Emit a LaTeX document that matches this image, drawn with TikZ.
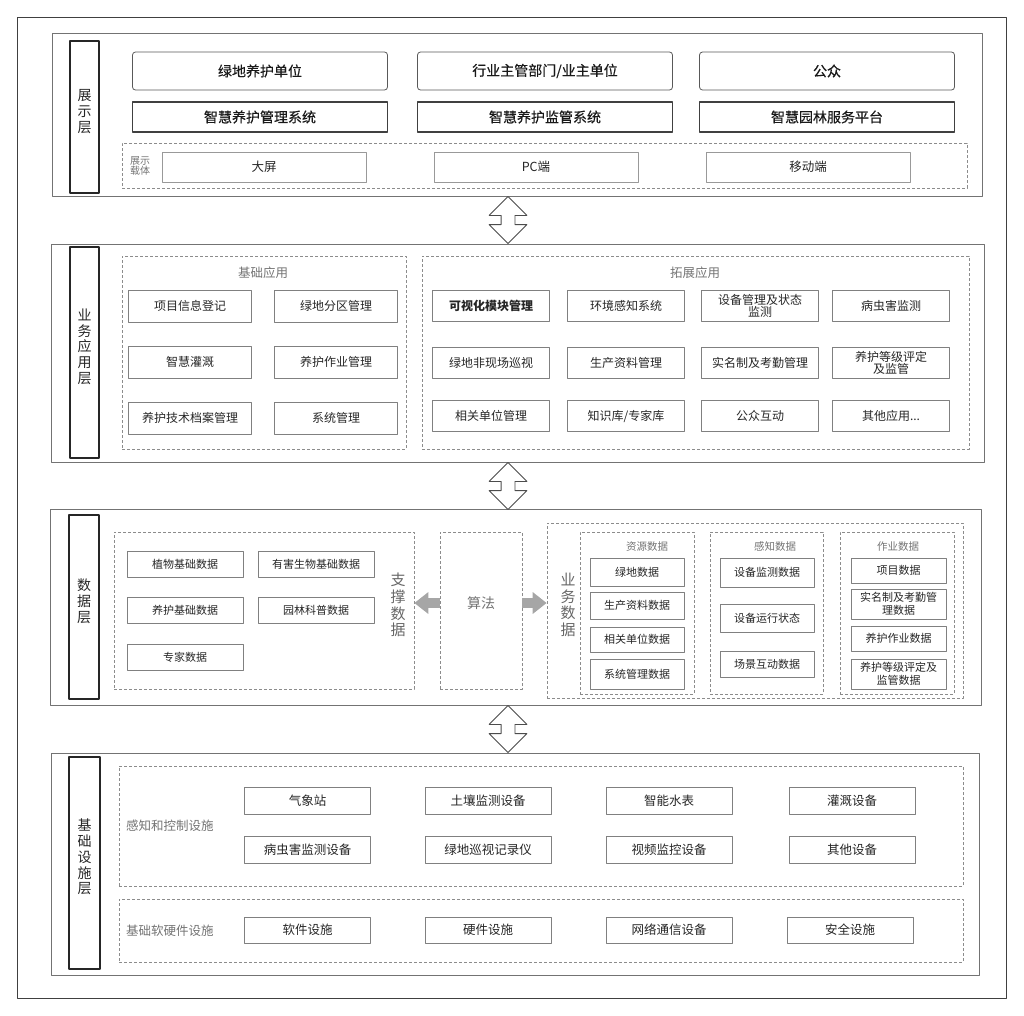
\documentclass[tikz,border=0pt]{standalone}
\usepackage{fontspec}
\newfontfamily\cjk{Noto Sans CJK SC}
\newfontfamily\cjkmid[FakeBold=0.4]{Noto Sans CJK SC}
\usetikzlibrary{fit,shapes.arrows,arrows.meta}
\begin{document}
\begin{tikzpicture}[x=1pt, y=-1pt, font=\cjk, line join=round,
	frame/.style={draw=black!75, line width=1pt, inner sep=0pt},
	layer/.style={draw=black!55, line width=0.9pt, inner sep=0pt},
	tag/.style={draw=black!85, line width=1.5pt, inner sep=0pt, align=center, text=black!85, font=\cjk\fontsize{14}{15.7}\selectfont},
	grp/.style={draw=black!45, dash pattern=on 3pt off 2pt, line width=0.7pt, inner sep=0pt},
	item/.style={draw=black!50, line width=0.8pt, inner sep=1pt, align=center, text=black!85, font=\cjk\fontsize{12}{12.5}\selectfont},
	role/.style={item, draw=black!65, rounded corners=3pt, text=black!90, font=\cjkmid\fontsize{14}{16}\selectfont, minimum width=255, minimum height=38},
	sys/.style={item, draw=black!75, line width=1.3pt, text=black!90, font=\cjkmid\fontsize{14}{16}\selectfont, minimum width=255, minimum height=30},
	screen/.style={item, draw=black!40, font=\cjk\fontsize{12.5}{14}\selectfont, minimum width=204, minimum height=30},
	datum/.style={item, font=\cjk\fontsize{11}{13}\selectfont},
	device/.style={item, font=\cjk\fontsize{12.5}{14}\selectfont, minimum width=126, minimum height=27},
	note/.style={text=black!55, inner sep=0pt, align=center, font=\cjk\fontsize{12.5}{14}\selectfont},
	small/.style={note, font=\cjk\fontsize{10.5}{11}\selectfont},
	upright/.style={note, text=black!60, font=\cjk\fontsize{15}{16.7}\selectfont},
	link/.style={double arrow, draw=black!70, fill=white, line width=0.8pt, rotate=90, inner xsep=0pt, inner ysep=6.5pt, minimum height=47, double arrow head extend=12pt, double arrow tip angle=90},
	push/.style={draw=black!35, line width=10pt, -{Triangle[width=21pt,length=14pt]}}
	]
	\useasboundingbox (0,0) rectangle (1024,1015);
	\node[frame, fit={(17,17) (1006,998)}] (all) {};
	
	\node[layer, fit={(52,33) (982,196)}] (lay1) {};
	\node[tag, fit={(70,41) (99,193)}] (tag1) {展\\示\\层};
	\foreach \x/\a/\b [count=\i] in {260/绿地养护单位/智慧养护管理系统, 545/{行业主管部门/业主单位}/智慧养护监管系统, 827/公众/智慧园林服务平台}
	{
		\node[role] (user\i) at (\x,71) {\a};
		\node[sys] (sys\i) at (\x,117) {\b};
	}
	\node[grp, fit={(122,143) (967,188)}] (carrier) {};
	\node[small, font=\cjk\fontsize{10}{10.5}\selectfont] (carriertxt) at (140,166) {展示\\载体};
	\foreach \x/\t [count=\i] in {264/大屏, 536/PC端, 808/移动端}
		\node[screen] (screen\i) at (\x,167) {\t};
	
	\node[layer, fit={(51,244) (984,462)}] (lay2) {};
	\node[tag, fit={(70,247) (99,458)}] (tag2) {业\\务\\应\\用\\层};
	\node[grp, fit={(122,256) (406,449)}] (basic) {};
	\node[note] (basictxt) at (263,273) {基础应用};
	\foreach \y/\a/\b [count=\r] in {306/项目信息登记/绿地分区管理, 362/智慧灌溉/养护作业管理, 418/养护技术档案管理/系统管理}
	{
		\node[item, minimum width=123, minimum height=32] (basic\r a) at (190,\y) {\a};
		\node[item, minimum width=123, minimum height=32] (basic\r b) at (336,\y) {\b};
	}
	\node[grp, fit={(422,256) (969,449)}] (extra) {};
	\node[note] (extratxt) at (695,273) {拓展应用};
	\foreach \y/\a/\b/\c/\d [count=\r] in {306/{\bfseries 可视化模块管理}/环境感知系统/{设备管理及状态\\监测}/病虫害监测, 363/绿地非现场巡视/生产资料管理/实名制及考勤管理/{养护等级评定\\及监管}, 416/相关单位管理/{知识库/专家库}/公众互动/{其他应用...}}
	{
		\node[item, minimum width=117, minimum height=31] (extra\r a) at (491,\y) {\a};
		\node[item, minimum width=117, minimum height=31] (extra\r b) at (626,\y) {\b};
		\node[item, minimum width=117, minimum height=31] (extra\r c) at (760,\y) {\c};
		\node[item, minimum width=117, minimum height=31] (extra\r d) at (891,\y) {\d};
	}
	
	\node[layer, fit={(50,509) (981,705)}] (lay3) {};
	\node[tag, fit={(69,515) (99,699)}] (tag3) {数\\据\\层};
	\node[grp, fit={(114,532) (414,689)}] (sup) {};
	\foreach \x/\y/\t [count=\i] in {185/564/植物基础数据, 316/564/有害生物基础数据, 185/610/养护基础数据, 316/610/园林科普数据, 185/657/专家数据}
		\node[datum, minimum width=116, minimum height=26] (sup\i) at (\x,\y) {\t};
	\node[upright] (suptxt) at (398,605) {支\\撑\\数\\据};
	\node[grp, fit={(440,532) (522,689)}] (alg) {};
	\node[note, font=\cjk\fontsize{14}{16}\selectfont] (algtxt) at (481,603) {算法};
	\node[grp, fit={(547,523) (963,698)}] (biz) {};
	\node[upright] (biztxt) at (568,605) {业\\务\\数\\据};
	\node[grp, fit={(580,532) (694,694)}] (res) {};
	\node[small] (restxt) at (647,547) {资源数据};
	\foreach \y/\h/\t [count=\i] in {572/28/绿地数据, 605.5/27/生产资料数据, 639.5/25/相关单位数据, 674/30/系统管理数据}
		\node[datum, minimum width=94, minimum height=\h] (res\i) at (637,\y) {\t};
	\node[grp, fit={(710,532) (823,694)}] (sen) {};
	\node[small] (sentxt) at (775,547) {感知数据};
	\foreach \y/\h/\t [count=\i] in {572.5/29/设备监测数据, 618/28/设备运行状态, 664/26/场景互动数据}
		\node[datum, minimum width=94, minimum height=\h] (sen\i) at (767,\y) {\t};
	\node[grp, fit={(840,532) (954,694)}] (job) {};
	\node[small] (jobtxt) at (898,547) {作业数据};
	\foreach \y/\h/\t [count=\i] in {570.5/25/项目数据, 604/30/{实名制及考勤管\\理数据}, 638.5/25/养护作业数据, 674/30/{养护等级评定及\\监管数据}}
		\node[datum, minimum width=95, minimum height=\h] (job\i) at (898.5,\y) {\t};
	\draw[push] (alg.west |- algtxt) -- (sup.east |- algtxt);
	\draw[push] (alg.east |- algtxt) -- (biz.west |- algtxt);
	
	\node[layer, fit={(51,753) (979,975)}] (lay4) {};
	\node[tag, fit={(69,757) (100,969)}] (tag4) {基\\础\\设\\施\\层};
	\node[grp, fit={(119,766) (963,886)}] (sense) {};
	\node[note, anchor=west] (sensetxt) at (126,826) {感知和控制设施};
	\foreach \x/\a/\b [count=\i] in {307.5/气象站/病虫害监测设备, 488/土壤监测设备/绿地巡视记录仪, 669/智能水表/视频监控设备, 852/灌溉设备/其他设备}
	{
		\node[device] (sense\i a) at (\x,800.5) {\a};
		\node[device] (sense\i b) at (\x,849.5) {\b};
	}
	\node[grp, fit={(119,899) (963,962)}] (base) {};
	\node[note, anchor=west] (basetxt) at (126,931) {基础软硬件设施};
	\foreach \x/\t [count=\i] in {307.5/软件设施, 488/硬件设施, 669/网络通信设备, 850/安全设施}
		\node[device, minimum height=26] (base\i) at (\x,930) {\t};
	
	\node[link] (link1) at (508,220) {};
	\node[link] (link2) at (508,486) {};
	\node[link] (link3) at (508,729) {};
\end{tikzpicture}
\end{document}
